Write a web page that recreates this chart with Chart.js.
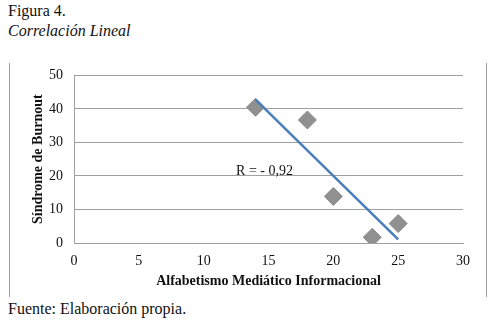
<!DOCTYPE html>
<html>
<head>
<meta charset="utf-8">
<script src="https://cdn.jsdelivr.net/npm/chart.js@4/dist/chart.umd.min.js"></script>
<style>
  body { margin: 0; width: 497px; height: 334px; background: #fff; position: relative; overflow: hidden;
         font-family: "Liberation Serif", "Times New Roman", "DejaVu Serif", serif; color: #111; }
  .txt { position: absolute; left: 8px; font-size: 16px; white-space: nowrap; }
  #frame { position: absolute; left: 9px; top: 63px; width: 476px; height: 234px;
           border-left: 1px solid #a0a0a0; border-right: 1px solid #a0a0a0; }
  #box { position: absolute; left: 10px; top: 56px; width: 475px; height: 241px; }
</style>
</head>
<body>
<div class="txt" style="top:2px;">Figura 4.</div>
<div class="txt" style="top:22px;font-style:italic;">Correlación Lineal</div>
<div id="frame"></div>
<div id="box"><canvas id="sampleChart"></canvas></div>
<div class="txt" style="top:300px;">Fuente: Elaboración propia.</div>
<script>
var xValues = [14, 18, 20, 23, 25];
var yValues = [40.5, 36.7, 13.9, 1.7, 5.8];
var trendX = [14, 25];
var trendY = [42.8, 1.1];
var xTicks = [0, 5, 10, 15, 20, 25, 30];
var yTicks = [0, 10, 20, 30, 40, 50];
var rLabel = "R = - 0,92";
var rAt = [12.5, 20.2];

var serif = "'Liberation Serif', 'Times New Roman', 'DejaVu Serif', serif";

var points = xValues.map(function (x, i) { return { x: x, y: yValues[i] }; });
var trend = trendX.map(function (x, i) { return { x: x, y: trendY[i] }; });

var rText = {
    id: "rText",
    afterDatasetsDraw: function (chart) {
        var c = chart.ctx;
        c.save();
        c.font = "14px " + serif;
        c.fillStyle = "#111";
        c.textAlign = "left";
        c.textBaseline = "alphabetic";
        c.fillText(rLabel, chart.scales.x.getPixelForValue(rAt[0]), chart.scales.y.getPixelForValue(rAt[1]));
        c.restore();
    }
};

var ctx = document.getElementById("sampleChart");

var myChart = new Chart(ctx, {
    type: "scatter",
    data: {
        datasets: [{
            data: trend,
            showLine: true,
            borderColor: "#4a7ebb",
            borderWidth: 2.5,
            pointRadius: 0,
            fill: false
        }, {
            data: points,
            pointStyle: "rectRot",
            pointRadius: 9,
            pointHoverRadius: 9,
            backgroundColor: "#909090",
            borderColor: "#8a8a8a",
            borderWidth: 1
        }]
    },
    options: {
        responsive: true,
        maintainAspectRatio: false,
        animation: false,
        layout: { padding: { left: 20, right: 22, top: 4, bottom: 7 } },
        plugins: { legend: { display: false }, tooltip: { enabled: false } },
        scales: {
            x: {
                type: "linear",
                min: 0, max: 30,
                afterBuildTicks: function (s) { s.ticks = xTicks.map(function (v) { return { value: v }; }); },
                afterFit: function (s) { s.height = 47; },
                grid: { display: false, drawTicks: false },
                border: { display: true, color: "#a0a0a0" },
                ticks: { color: "#111", padding: 10, font: { family: serif, size: 14 } },
                title: {
                    display: true, text: "Alfabetismo Mediático Informacional", color: "#111",
                    font: { family: serif, size: 14, weight: "bold" }, padding: { top: 3, bottom: 0 }
                }
            },
            y: {
                min: 0, max: 50,
                afterBuildTicks: function (s) { s.ticks = yTicks.map(function (v) { return { value: v }; }); },
                afterFit: function (s) { s.width = 44; },
                grid: { color: "#a0a0a0", drawTicks: false },
                border: { display: true, color: "#a0a0a0" },
                ticks: { color: "#111", padding: 11, font: { family: serif, size: 14 } },
                title: {
                    display: true, text: "Síndrome de Burnout", color: "#111",
                    font: { family: serif, size: 14, weight: "bold" }, padding: { top: 0, bottom: 0 }
                }
            }
        }
    },
    plugins: [rText]
});
</script>
</body>
</html>
